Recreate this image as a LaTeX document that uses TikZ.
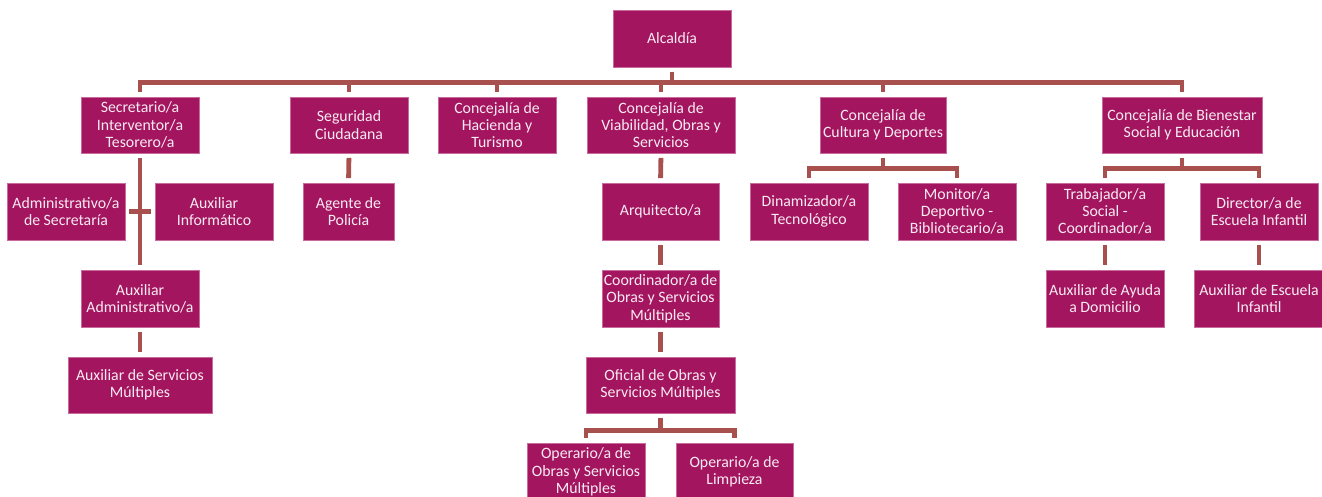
\documentclass[tikz,border=0pt]{standalone}
\usepackage{fontspec}
\setmainfont{Carlito}
\definecolor{boxfill}{HTML}{A3165F}
\definecolor{boxedge}{HTML}{C86A9C}
\definecolor{conncol}{HTML}{A8504E}
\definecolor{boxtext}{HTML}{F8EAF2}
\begin{document}
\begin{tikzpicture}[x=1pt,y=-1pt,
  orgbox/.style={rectangle, fill=boxfill, draw=boxedge, line width=0.8pt,
    inner sep=0pt, align=center, text=boxtext,
    font=\fontsize{15.8}{17.3}\selectfont},
  conn/.style={draw=conncol, line width=4.8pt, line join=miter,
    shorten <=4.5pt, shorten >=4.5pt}]
\useasboundingbox (0,0) rectangle (1322,497);
\clip (0,0) rectangle (1322,497);
\fill[white] (0,0) rectangle (1322,497);
% level 0
\node[orgbox, minimum width=118pt, minimum height=57pt] (alc) at (672,38.5) {Alcaldía};
% level 1
\node[orgbox, minimum width=118pt, minimum height=56pt] (sec) at (140,125) {Secretario/a\\Interventor/a\\Tesorero/a};
\node[orgbox, minimum width=118pt, minimum height=56pt] (seg) at (349,125) {Seguridad\\Ciudadana};
\node[orgbox, minimum width=118pt, minimum height=56pt] (hac) at (497,125) {Concejalía de\\Hacienda y\\Turismo};
\node[orgbox, minimum width=148pt, minimum height=56pt] (via) at (661,125) {Concejalía de\\Viabilidad, Obras y\\Servicios};
\node[orgbox, minimum width=126pt, minimum height=56pt] (cul) at (883,125) {Concejalía de\\Cultura y Deportes};
\node[orgbox, minimum width=160pt, minimum height=56pt] (bie) at (1182,125) {Concejalía de Bienestar\\Social y Educación};
% level 2
\node[orgbox, minimum width=118pt, minimum height=57pt] (adm) at (66,211.5) {Administrativo/a\\de Secretaría};
\node[orgbox, minimum width=118pt, minimum height=57pt] (inf) at (214,211.5) {Auxiliar\\Informático};
\node[orgbox, minimum width=91pt, minimum height=57pt] (age) at (348.5,211.5) {Agente de\\Policía};
\node[orgbox, minimum width=117pt, minimum height=57pt] (arq) at (660.5,211.5) {Arquitecto/a};
\node[orgbox, minimum width=118pt, minimum height=57pt] (din) at (809,211.5) {Dinamizador/a\\Tecnológico};
\node[orgbox, minimum width=118pt, minimum height=57pt] (mon) at (957,211.5) {Monitor/a\\Deportivo -\\Bibliotecario/a};
\node[orgbox, minimum width=118pt, minimum height=57pt] (tra) at (1105,211.5) {Trabajador/a\\Social -\\Coordinador/a};
\node[orgbox, minimum width=118pt, minimum height=57pt] (dir) at (1259,211.5) {Director/a de\\Escuela Infantil};
% level 3
\node[orgbox, minimum width=118pt, minimum height=57pt] (aux) at (140,298.5) {Auxiliar\\Administrativo/a};
\node[orgbox, minimum width=117pt, minimum height=57pt] (coo) at (660.5,298.5) {Coordinador/a de\\Obras y Servicios\\Múltiples};
\node[orgbox, minimum width=118pt, minimum height=57pt] (ayu) at (1105,298.5) {Auxiliar de Ayuda\\a Domicilio};
\node[orgbox, minimum width=130pt, minimum height=57pt] (esc) at (1259,298.5) {Auxiliar de Escuela\\Infantil};
% level 4
\node[orgbox, minimum width=144pt, minimum height=56pt] (ser) at (140,385) {Auxiliar de Servicios\\Múltiples};
\node[orgbox, minimum width=149pt, minimum height=56pt] (ofi) at (660.5,385) {Oficial de Obras y\\Servicios Múltiples};
% level 5
\node[orgbox, minimum width=118pt, minimum height=58pt] (op1) at (586,472) {Operario/a de\\Obras y Servicios\\Múltiples};
\node[orgbox, minimum width=117pt, minimum height=58pt] (op2) at (734.5,472) {Operario/a de\\Limpieza};
% connectors from Alcaldía
\foreach \c in {sec,seg,hac,via,cul,bie}
  \draw[conn] (alc.south) -- ++(0,15) -| (\c.north);
% Secretario branch
\draw[conn] (sec.south) -- (aux.north);
\draw[conn, shorten <=4pt, shorten >=4pt] (adm.east) -- (inf.west);
\draw[conn] (aux.south) -- (ser.north);
% Seguridad
\draw[conn] (seg.south) -- (age.north);
% Viabilidad chain
\draw[conn] (via.south) -- (arq.north);
\draw[conn] (arq.south) -- (coo.north);
\draw[conn] (coo.south) -- (ofi.north);
\foreach \c in {op1,op2}
  \draw[conn] (ofi.south) -- ++(0,17) -| (\c.north);
% Cultura
\foreach \c in {din,mon}
  \draw[conn] (cul.south) -- ++(0,15) -| (\c.north);
% Bienestar
\foreach \c in {tra,dir}
  \draw[conn] (bie.south) -- ++(0,15) -| (\c.north);
\draw[conn] (tra.south) -- (ayu.north);
\draw[conn] (dir.south) -- (esc.north);
\end{tikzpicture}
\end{document}
